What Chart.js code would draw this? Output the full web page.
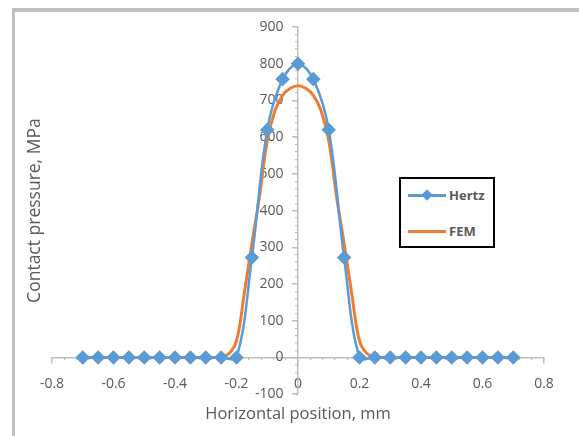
<!DOCTYPE html>
<html>
<head>
<meta charset="utf-8">
<script src="https://cdn.jsdelivr.net/npm/chart.js@4.4.1/dist/chart.umd.min.js"></script>
<style>
  html, body { margin: 0; padding: 0; background: #fff; }
  #wrap { position: relative; width: 579px; height: 436px; overflow: hidden; }
  #frame { position: absolute; left: 12px; top: 8px; right: -10px; bottom: -10px;
           border-top: 4px solid #bfbfbf; border-left: 3px solid #bfbfbf; }
  #chart { position: absolute; left: 0; top: 0; }
  #legend { position: absolute; left: 399px; top: 177px; width: 96px; height: 71px;
            box-sizing: border-box; border: 2px solid #000; background: #fff;
            font: bold 13px "Open Sans", sans-serif; color: #595959; }
  .item { position: absolute; left: 7px; height: 14px; display: flex; align-items: center; white-space: nowrap; }
  .swatch { position: relative; width: 38px; height: 3px; margin-right: 3px; }
  .diamond { position: absolute; left: 15px; top: -3px; width: 8px; height: 8px; transform: rotate(45deg); }
</style>
</head>
<body>
<div id="wrap">
  <div id="frame"></div>
  <canvas id="chart" width="579" height="436"></canvas>
  <div id="legend"></div>
</div>
<script>
// Hertz solution, sampled every 0.05 mm
const hertzX = [-0.7, -0.65, -0.6, -0.55, -0.5, -0.45, -0.4, -0.35, -0.3, -0.25, -0.2,
                -0.15, -0.1, -0.05, 0, 0.05, 0.1, 0.15,
                0.2, 0.25, 0.3, 0.35, 0.4, 0.45, 0.5, 0.55, 0.6, 0.65, 0.7];
const hertzY = [0, 0, 0, 0, 0, 0, 0, 0, 0, 0, 0,
                272, 620, 758, 800, 758, 620, 272,
                0, 0, 0, 0, 0, 0, 0, 0, 0, 0, 0];

// FEM contact pressure at the surface nodes
const femX = [-0.7, -0.65, -0.6, -0.55, -0.5, -0.45, -0.4, -0.35, -0.3, -0.275, -0.25, -0.225,
              -0.2, -0.175, -0.15, -0.125, -0.1, -0.075, -0.05, -0.025, 0,
              0.025, 0.05, 0.075, 0.1, 0.125, 0.15, 0.175, 0.2,
              0.225, 0.25, 0.275, 0.3, 0.35, 0.4, 0.45, 0.5, 0.55, 0.6, 0.65, 0.7];
const femY = [0, 0, 0, 0, 0, 0, 0, 0, 0, 0, 2, 10,
              45, 173, 310, 440, 590, 672, 714, 733, 740,
              733, 714, 672, 590, 440, 310, 173, 45,
              10, 2, 0, 0, 0, 0, 0, 0, 0, 0, 0, 0];

const seriesNames = ['Hertz', 'FEM'];
const xTicks = { min: -0.8, max: 0.8, step: 0.2, minor: 0.04 };
const yTicks = { min: -100, max: 900, step: 100, minor: 20 };

const axisGray = '#bfbfbf';
const textGray = '#595959';
const tickFont = { family: 'Open Sans', size: 14 };

function points(xs, ys) {
  return xs.map((x, i) => ({ x: x, y: ys[i] }));
}

const ctx = document.getElementById('chart').getContext('2d');
const chart = new Chart(ctx, {
  type: 'line',
  data: {
    datasets: [{
      label: seriesNames[0],
      data: points(hertzX, hertzY),
      borderColor: '#5B9BD5',
      backgroundColor: '#5B9BD5',
      borderWidth: 2.5,
      pointStyle: 'rectRot',
      pointRadius: 5.5,
      pointHoverRadius: 5.5,
      tension: 0.35
    }, {
      label: seriesNames[1],
      data: points(femX, femY),
      borderColor: '#ED7D31',
      backgroundColor: '#ED7D31',
      borderWidth: 3,
      pointRadius: 0,
      pointStyle: 'line',
      tension: 0.4
    }]
  },
  options: {
    responsive: false,
    animation: false,
    layout: { padding: { top: 27, right: 35, bottom: 12, left: 19 } },
    plugins: {
      legend: { display: false },
      tooltip: { enabled: false }
    },
    scales: {
      x: {
        type: 'linear',
        position: { y: 0 },
        min: xTicks.min, max: xTicks.max,
        ticks: {
          stepSize: xTicks.step,
          color: textGray,
          font: tickFont,
          padding: 13,
          maxRotation: 0,
          callback: v => String(Math.round(v * 10) / 10)
        },
        grid: { drawOnChartArea: false, drawTicks: true, tickLength: 5, color: axisGray, lineWidth: 1.5 },
        border: { color: axisGray, width: 1.5 }
      },
      xMinor: {
        axis: 'x',
        type: 'linear',
        position: { y: 0 },
        min: xTicks.min, max: xTicks.max,
        ticks: { display: false, stepSize: xTicks.minor },
        grid: { drawOnChartArea: false, drawTicks: true, tickLength: 3, color: axisGray, lineWidth: 1.2 },
        border: { display: false }
      },
      xTitle: {
        axis: 'x',
        type: 'linear',
        position: 'bottom',
        min: xTicks.min, max: xTicks.max,
        ticks: { display: false },
        grid: { display: false, drawTicks: false },
        border: { display: false },
        title: {
          display: true,
          text: 'Horizontal position, mm',
          color: textGray,
          font: { family: 'Open Sans', size: 16.5 },
          padding: { top: 10, bottom: 0 }
        }
      },
      y: {
        type: 'linear',
        position: { x: 0 },
        min: yTicks.min, max: yTicks.max,
        ticks: {
          stepSize: yTicks.step,
          color: textGray,
          font: tickFont,
          // labels sit flush right on a centred axis, so leave a gap
          callback: v => v + '    '
        },
        grid: { drawOnChartArea: false, drawTicks: true, tickLength: 5, color: axisGray, lineWidth: 1.5 },
        border: { color: axisGray, width: 1.5 }
      },
      yMinor: {
        axis: 'y',
        type: 'linear',
        position: { x: 0 },
        min: yTicks.min, max: yTicks.max,
        ticks: { display: false, stepSize: yTicks.minor },
        grid: { drawOnChartArea: false, drawTicks: true, tickLength: 3, color: axisGray, lineWidth: 1.2 },
        border: { display: false }
      },
      yTitle: {
        axis: 'y',
        type: 'linear',
        position: 'left',
        min: yTicks.min, max: yTicks.max,
        ticks: { display: false },
        grid: { display: false, drawTicks: false },
        border: { display: false },
        title: {
          display: true,
          text: 'Contact pressure, MPa',
          color: textGray,
          font: { family: 'Open Sans', size: 17.5 },
          padding: { top: 6, bottom: 6 }
        }
      }
    }
  }
});

// boxed legend built from the datasets
const legendEl = document.getElementById('legend');
chart.data.datasets.forEach((ds, i) => {
  const item = document.createElement('div');
  item.className = 'item';
  item.style.top = (9 + i * 36) + 'px';
  const sw = document.createElement('span');
  sw.className = 'swatch';
  sw.style.background = ds.borderColor;
  if (ds.pointStyle === 'rectRot') {
    const d = document.createElement('span');
    d.className = 'diamond';
    d.style.background = ds.backgroundColor;
    sw.appendChild(d);
  }
  item.appendChild(sw);
  item.appendChild(document.createTextNode(ds.label));
  legendEl.appendChild(item);
});
</script>
</body>
</html>
